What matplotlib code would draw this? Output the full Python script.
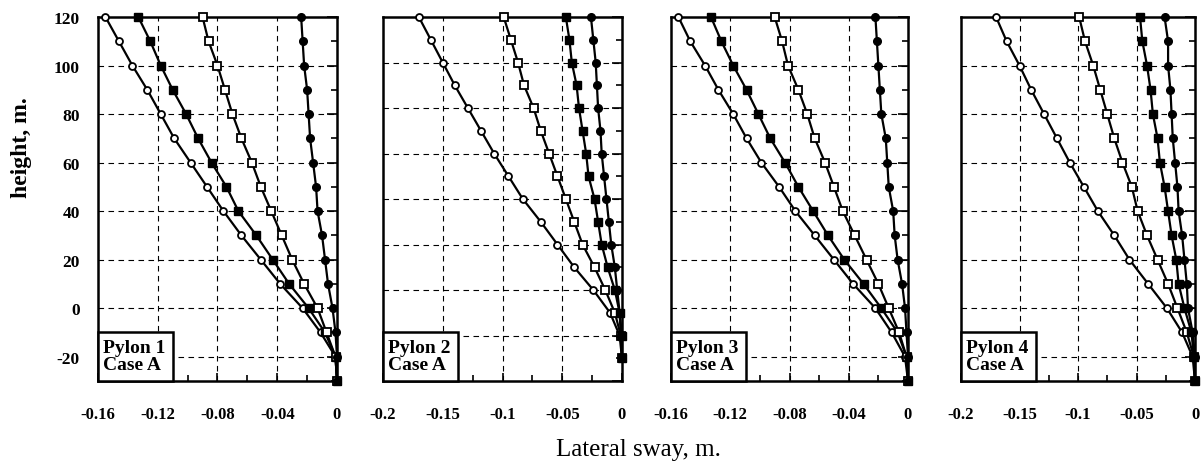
import numpy as np
import matplotlib
matplotlib.use("Agg")
from matplotlib import pyplot as plt
from matplotlib.patches import Rectangle
from matplotlib.ticker import MultipleLocator, FixedLocator, FixedFormatter

plt.rcParams['font.family'] = ['Liberation Serif', 'DejaVu Serif']
plt.rcParams['axes.unicode_minus'] = False

''' Data read off the figure (height in m, sway in m) '''
heights = [120, 110, 100, 90, 80, 70, 60, 50, 40, 30, 20, 10, 0, -10, -20, -30]

p1_open_circ = [-0.155, -0.146, -0.137, -0.127, -0.118, -0.109, -0.098, -0.087,
                -0.076, -0.064, -0.051, -0.038, -0.023, -0.011, -0.001, 0]
p1_fill_sq = [-0.133, -0.125, -0.118, -0.110, -0.101, -0.093, -0.084, -0.074,
              -0.066, -0.054, -0.043, -0.032, -0.019, -0.008, -0.001, 0]
p1_open_sq = [-0.090, -0.086, -0.080, -0.075, -0.070, -0.064, -0.057, -0.051,
              -0.044, -0.037, -0.030, -0.022, -0.013, -0.007, -0.001, 0]
p1_fill_circ = [-0.024, -0.023, -0.022, -0.020, -0.019, -0.018, -0.016, -0.014,
                -0.013, -0.010, -0.008, -0.006, -0.003, -0.001, 0, 0]

p2_open_circ = [-0.170, -0.160, -0.150, -0.140, -0.129, -0.118, -0.107, -0.095,
                -0.083, -0.068, -0.054, -0.040, -0.024, -0.010, -0.002, 0]
p2_open_sq = [-0.099, -0.093, -0.087, -0.082, -0.074, -0.068, -0.061, -0.054,
              -0.047, -0.040, -0.033, -0.023, -0.014, -0.006, -0.001, 0]
p2_fill_sq = [-0.047, -0.044, -0.042, -0.038, -0.036, -0.033, -0.030, -0.028,
              -0.023, -0.020, -0.017, -0.012, -0.006, -0.002, 0, 0]
p2_fill_circ = [-0.026, -0.024, -0.022, -0.021, -0.020, -0.018, -0.017, -0.015,
                -0.013, -0.011, -0.009, -0.006, -0.004, -0.002, -0.001, 0]

p3_open_circ = [-0.155, -0.147, -0.137, -0.128, -0.118, -0.109, -0.099, -0.087,
                -0.076, -0.063, -0.050, -0.037, -0.022, -0.011, -0.002, 0]
p3_fill_sq = [-0.133, -0.126, -0.118, -0.109, -0.101, -0.093, -0.083, -0.074,
              -0.064, -0.054, -0.043, -0.030, -0.018, -0.007, -0.001, 0]
p3_open_sq = [-0.090, -0.085, -0.081, -0.074, -0.068, -0.063, -0.056, -0.050,
              -0.044, -0.036, -0.028, -0.020, -0.013, -0.006, -0.001, 0]
p3_fill_circ = [-0.022, -0.021, -0.020, -0.019, -0.018, -0.015, -0.014, -0.013,
                -0.010, -0.009, -0.007, -0.004, -0.002, -0.001, 0, 0]

p4_open_circ = [-0.170, -0.161, -0.150, -0.140, -0.129, -0.118, -0.107, -0.095,
                -0.083, -0.069, -0.056, -0.040, -0.024, -0.011, -0.002, 0]
p4_open_sq = [-0.099, -0.094, -0.087, -0.081, -0.075, -0.069, -0.062, -0.054,
              -0.049, -0.041, -0.032, -0.023, -0.015, -0.007, -0.001, 0]
p4_fill_sq = [-0.047, -0.045, -0.041, -0.038, -0.036, -0.032, -0.030, -0.026,
              -0.023, -0.020, -0.016, -0.014, -0.009, -0.003, -0.001, 0]
p4_fill_circ = [-0.026, -0.023, -0.023, -0.021, -0.020, -0.019, -0.017, -0.015,
                -0.014, -0.011, -0.009, -0.007, -0.006, -0.002, 0, 0]

panel_titles = ["Pylon 1\nCase A", "Pylon 2\nCase A", "Pylon 3\nCase A", "Pylon 4\nCase A"]
x_ticks_a = [-0.16, -0.12, -0.08, -0.04, 0]
x_labels_a = ["-0.16", "-0.12", "-0.08", "-0.04", "0"]
x_ticks_b = [-0.2, -0.15, -0.1, -0.05, 0]
x_labels_b = ["-0.2", "-0.15", "-0.1", "-0.05", "0"]
y_ticks = [120, 100, 80, 60, 40, 20, 0, -20]

# panel layout in pixels: left, width ; plus y range and tick set
panels = [
    dict(left=98, width=239, ymin=-30, ticks=x_ticks_a, labels=x_labels_a, minor=0.02,
         series=[p1_open_circ, p1_fill_sq, p1_open_sq, p1_fill_circ]),
    dict(left=383, width=239, ymin=-40, ticks=x_ticks_b, labels=x_labels_b, minor=0.025,
         series=[p2_open_circ, p2_open_sq, p2_fill_sq, p2_fill_circ]),
    dict(left=671, width=237, ymin=-30, ticks=x_ticks_a, labels=x_labels_a, minor=0.02,
         series=[p3_open_circ, p3_fill_sq, p3_open_sq, p3_fill_circ]),
    dict(left=961, width=234, ymin=-30, ticks=x_ticks_b, labels=x_labels_b, minor=0.025,
         series=[p4_open_circ, p4_open_sq, p4_fill_sq, p4_fill_circ]),
]

styles = {
    'open_circ': dict(marker='o', ms=5, mfc='white', mec='black', mew=1.3),
    'open_sq': dict(marker='s', ms=5.5, mfc='white', mec='black', mew=1.3),
    'fill_sq': dict(marker='s', ms=6, mfc='black', mec='black'),
    'fill_circ': dict(marker='o', ms=5.5, mfc='black', mec='black'),
}
order = [
    ['open_circ', 'fill_sq', 'open_sq', 'fill_circ'],
    ['open_circ', 'open_sq', 'fill_sq', 'fill_circ'],
    ['open_circ', 'fill_sq', 'open_sq', 'fill_circ'],
    ['open_circ', 'open_sq', 'fill_sq', 'fill_circ'],
]

W, H = 1204, 464
fig = plt.figure(figsize=(W / 100, H / 100), dpi=100)

top_px, bot_px = 18, 382
ax_h = bot_px - top_px
for i, p in enumerate(panels):
    ax = fig.add_axes([p['left'] / W, 1 - bot_px / H, p['width'] / W, ax_h / H])
    for vals, key in zip(p['series'], order[i]):
        ax.plot(vals, heights, color='black', lw=1.6, clip_on=False, zorder=3, **styles[key])

    ax.set_xlim(p['ticks'][0], 0)
    ax.set_ylim(p['ymin'], 120)

    # dashed grid at interior major ticks
    for xv in p['ticks'][1:-1]:
        ax.axvline(xv, color='black', lw=0.8, ls=(0, (5, 4)), zorder=0)
    for yv in y_ticks:
        if p['ymin'] < yv < 120:
            ax.axhline(yv, color='black', lw=0.8, ls=(0, (5, 4)), zorder=0)

    ax.xaxis.set_major_locator(FixedLocator(p['ticks']))
    ax.xaxis.set_major_formatter(FixedFormatter(p['labels']))
    ax.xaxis.set_minor_locator(MultipleLocator(p['minor']))
    ax.yaxis.set_major_locator(MultipleLocator(20))
    ax.yaxis.set_minor_locator(MultipleLocator(10))
    if i == 0:
        ax.set_yticks(y_ticks)

    ax.tick_params(axis='x', which='both', direction='in', top=False, bottom=True,
                   labelsize=12, pad=18, width=1.2)
    ax.tick_params(axis='x', which='major', length=6)
    ax.tick_params(axis='x', which='minor', length=4)
    ax.tick_params(axis='y', which='both', direction='in', left=False, right=True,
                   labelleft=(i == 0), labelsize=12.5, pad=13, width=1.2)
    ax.tick_params(axis='y', which='major', length=7)
    ax.tick_params(axis='y', which='minor', length=4)
    for lab in ax.get_xticklabels() + ax.get_yticklabels():
        lab.set_fontweight('bold')

    for s in ax.spines.values():
        s.set_linewidth(1.8)

    # label box in the lower-left corner, 75x49 px
    bw, bh = 75 / p['width'], 49 / ax_h
    ax.add_patch(Rectangle((0, 0), bw, bh, transform=ax.transAxes, fc='white',
                           ec='black', lw=1.8, zorder=5, clip_on=False))
    ax.text(5 / p['width'], bh / 2, panel_titles[i], transform=ax.transAxes,
            ha='left', va='center', fontsize=14, fontweight='bold',
            linespacing=1.0, zorder=6)

fig.text(22 / W, 1 - 148 / H, "height, m.", rotation=90, ha='center', va='center',
         fontsize=17, fontweight='bold')
fig.text(638 / W, 1 - 450 / H, "Lateral sway, m.", ha='center', va='center', fontsize=18)

fig.savefig("out.png", dpi=100)
